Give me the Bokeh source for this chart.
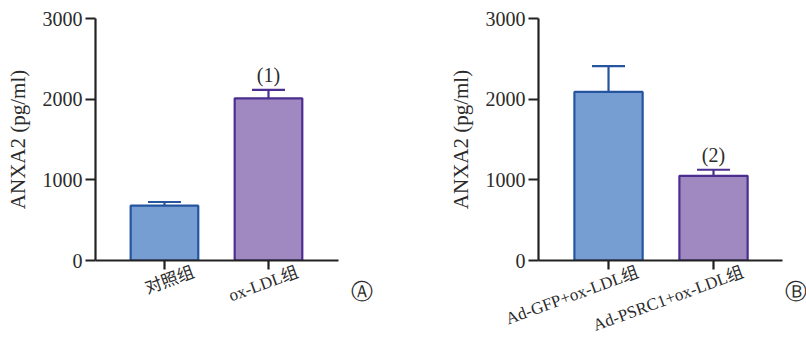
from bokeh.plotting import figure
from bokeh.layouts import row
from bokeh.models import (Range1d, FixedTicker, ColumnDataSource, Whisker, TeeHead, Label)
from bokeh.core.properties import value
from bokeh.embed import file_html
from bokeh.resources import INLINE
import math

# ---- data ----
cats_a = ["对照组", "ox-LDL组"]
vals_a = [680, 2010]
errs_a = [45, 105]
sig_a = ["", "(1)"]

cats_b = ["Ad-GFP+ox-LDL组", "Ad-PSRC1+ox-LDL组"]
vals_b = [2090, 1050]
errs_b = [320, 75]
sig_b = ["", "(2)"]

y_ticks = [0, 1000, 2000, 3000]
fills = ["#779ed3", "#a088c0"]
lines = ["#24559e", "#4b2e90"]

FONT = "Liberation Serif, Noto Sans CJK SC"
TXT = "#2b2b2b"
AX = "#222222"
H = 346


def panel(cats, vals, errs, sig, width, left, right, xr, label_shift):
    p = figure(width=width, height=H, output_backend="svg", toolbar_location=None,
               x_range=Range1d(*xr), y_range=Range1d(0, 3000),
               min_border_left=left, min_border_right=right,
               min_border_top=18, min_border_bottom=84)
    p.outline_line_color = None
    p.xgrid.visible = False
    p.ygrid.visible = False
    xs = [i + 0.5 for i in range(len(cats))]
    src = ColumnDataSource(dict(x=xs, top=vals, upper=[v + e for v, e in zip(vals, errs)],
                                fill=fills, line=lines, sig=sig))
    w = Whisker(base="x", upper="upper", lower="top", source=src,
                line_color="line", line_width=2.2,
                upper_head=TeeHead(size=33, line_color="line", line_width=2.2),
                lower_head=None, level="underlay")
    p.add_layout(w)
    p.vbar(x="x", top="top", width=0.65, source=src, fill_color="fill",
           line_color="line", line_width=2.2)
    p.text(x="x", y="upper", text="sig", source=src, text_align="center",
           text_baseline="bottom", y_offset=-4, text_font=value(FONT),
           text_font_size="20px", text_color=TXT)

    # y axis
    ya = p.yaxis[0]
    ya.ticker = FixedTicker(ticks=y_ticks)
    ya.axis_line_width = 2.2
    ya.axis_line_color = AX
    ya.major_tick_line_width = 2.2
    ya.major_tick_line_color = AX
    ya.minor_tick_line_color = None
    ya.major_tick_in = 0
    ya.major_tick_out = 10
    ya.major_label_standoff = 3
    ya.major_label_text_font = FONT
    ya.major_label_text_color = TXT
    ya.major_label_text_font_size = "20px"
    ya.axis_label = "ANXA2 (pg/ml)"
    ya.axis_label_text_font = FONT
    ya.axis_label_text_font_style = "normal"
    ya.axis_label_text_font_size = "21px"
    ya.axis_label_text_color = TXT
    ya.axis_label_standoff = 10

    # x axis: tick marks at bar centres (minor ticks), slanted labels offset (major)
    lx = [x + label_shift for x in xs]
    xa = p.xaxis[0]
    xa.ticker = FixedTicker(ticks=lx, minor_ticks=xs)
    xa.major_label_overrides = {t: c for t, c in zip(lx, cats)}
    xa.axis_line_width = 2.2
    xa.axis_line_color = AX
    xa.major_tick_line_color = None
    xa.major_tick_in = 0
    xa.major_tick_out = 9
    xa.minor_tick_line_color = AX
    xa.minor_tick_line_width = 2.2
    xa.minor_tick_in = 0
    xa.minor_tick_out = 9
    xa.major_label_standoff = 2
    xa.major_label_text_font = FONT
    xa.major_label_text_color = TXT
    xa.major_label_text_font_size = "17px"
    xa.major_label_orientation = math.radians(20)
    return p


def letter_fig(width, letter, lx, ly):
    f = figure(width=width, height=H, output_backend="svg", toolbar_location=None,
               x_axis_type=None, y_axis_type=None, x_range=Range1d(0, 1),
               y_range=Range1d(0, 1), min_border=0, frame_align=False)
    f.outline_line_color = None
    f.grid.visible = False
    f.add_layout(Label(x=lx, y=ly, x_units="screen", y_units="screen",
                       text=letter, text_font="DejaVu Serif, DejaVu Sans",
                       text_font_size="22px", text_color=TXT,
                       text_align="center", text_baseline="middle"))
    return f


pa = panel(cats_a, vals_a, errs_a, sig_a, 346, 95, 8, (-0.163, 2.173), 0.28)
fa = letter_fig(30, "Ⓐ", 15, 55)
pb = panel(cats_b, vals_b, errs_b, sig_b, 408, 162, 2, (-0.167, 2.157), 0.28)
fb = letter_fig(22, "Ⓑ", 11, 55)

layout = row(pa, fa, pb, fb)
open("out.html", "w").write(file_html(layout, INLINE))
